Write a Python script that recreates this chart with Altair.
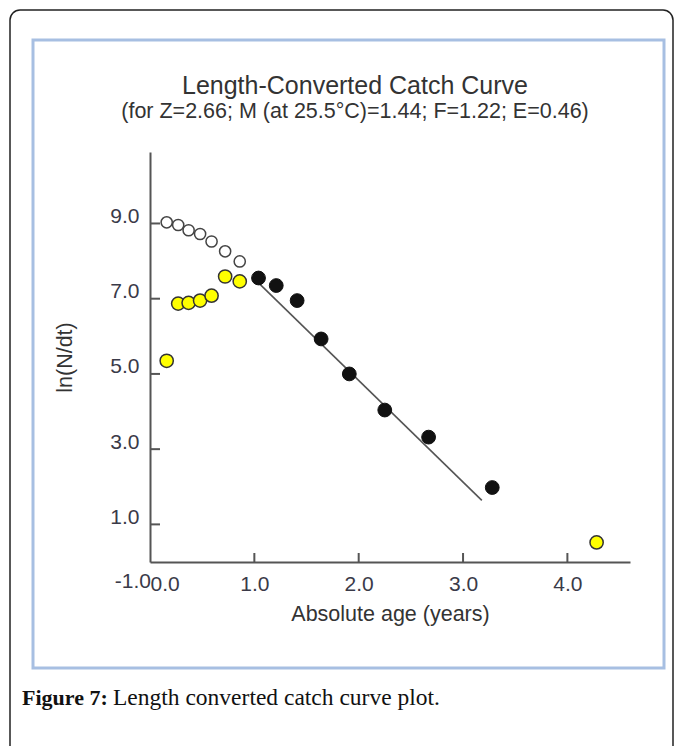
import altair as alt
import pandas as pd

# ---- data ----
ages_young = [0.16, 0.27, 0.37, 0.48, 0.59, 0.72, 0.86]
open_y = [9.03, 8.96, 8.82, 8.72, 8.52, 8.26, 7.99]
yellow_x = [0.16, 0.27, 0.37, 0.48, 0.59, 0.72, 0.86, 4.28]
yellow_y = [5.35, 6.87, 6.89, 6.95, 7.08, 7.59, 7.46, 0.52]
black_x = [1.04, 1.21, 1.41, 1.64, 1.91, 2.25, 2.67, 3.28]
black_y = [7.55, 7.35, 6.95, 5.93, 5.00, 4.04, 3.32, 1.98]
line_x = [1.04, 3.18]
line_y = [7.42, 1.64]
x_ticks = [0, 1, 2, 3, 4]
y_ticks = [1, 3, 5, 7, 9]
title_text = "Length-Converted Catch Curve"
subtitle_text = "(for Z=2.66; M (at 25.5°C)=1.44; F=1.22; E=0.46)"
x_title = "Absolute age (years)"
y_title = "ln(N/dt)"
extra_y_label = "-1.0"
caption_bold = "Figure 7:"
caption_rest = "Length converted catch curve plot."

FONT = "Liberation Sans"
AX = "#555555"
W, H = 480, 410

xs = alt.Scale(domain=[0, 4.6], nice=False, zero=False)
ys = alt.Scale(domain=[0, 10.9], nice=False, zero=False)

xaxis = alt.Axis(values=x_ticks, format=".1f", tickSize=0, grid=False, zindex=1,
                 domainColor=AX, domainWidth=2, labelFontSize=21, labelColor="#3a3a48",
                 labelFont=FONT, labelPadding=11, title=x_title, titleFont=FONT,
                 titleFontSize=21.5, titleFontWeight="normal", titleColor="#333333",
                 titlePadding=9)
yaxis = alt.Axis(values=y_ticks, format=".1f", tickSize=0, grid=False, zindex=1,
                 domainColor=AX, domainWidth=2, labelFontSize=21, labelColor="#3a3a48",
                 labelFont=FONT, labelPadding=11, labelOffset=-7, title=y_title,
                 titleFont=FONT, titleFontSize=21.5, titleFontWeight="normal",
                 titleColor="#333333", titlePadding=33)


def X(field):
    return alt.X(field, scale=xs, axis=xaxis)


def Y(field):
    return alt.Y(field, scale=ys, axis=yaxis)


# decorative frames
frame_df = pd.DataFrame({"k": [1]})
outer_frame = alt.Chart(frame_df).mark_rect(fill="white", stroke="#222222", strokeWidth=1.5,
                                            cornerRadius=10).encode(
    x=alt.value(-140), x2=alt.value(523), y=alt.value(-142), y2=alt.value(700))
inner_frame = alt.Chart(frame_df).mark_rect(fill="white", stroke="#a7bfe2", strokeWidth=3).encode(
    x=alt.value(-117), x2=alt.value(514), y=alt.value(-112), y2=alt.value(516))

pts_open = pd.DataFrame({"x": ages_young, "y": open_y})
pts_yel = pd.DataFrame({"x": yellow_x, "y": yellow_y})
pts_blk = pd.DataFrame({"x": black_x, "y": black_y})
line_df = pd.DataFrame({"x": line_x, "y": line_y})

line = alt.Chart(line_df).mark_line(color="#555555", strokeWidth=1.6).encode(
    x=X("x:Q"), y=Y("y:Q"))

ytick_df = pd.DataFrame({"v": y_ticks})
xtick_df = pd.DataFrame({"v": x_ticks[1:]})
yticks = alt.Chart(ytick_df).mark_rule(color=AX, strokeWidth=2).encode(
    y=Y("v:Q"), x=alt.value(0), x2=alt.value(10))
xticks = alt.Chart(xtick_df).mark_rule(color=AX, strokeWidth=2).encode(
    x=X("v:Q"), y=alt.value(H), y2=alt.value(H - 9))

open_pts = alt.Chart(pts_open).mark_point(shape="circle", filled=True, fill="white",
                                          stroke="#444444", strokeWidth=1.5, size=125,
                                          opacity=1).encode(x=X("x:Q"), y=Y("y:Q"))
yel_pts = alt.Chart(pts_yel).mark_point(shape="circle", filled=True, fill="#ffff00",
                                        stroke="#333333", strokeWidth=1.5, size=175,
                                        opacity=1).encode(x=X("x:Q"), y=Y("y:Q"))
blk_pts = alt.Chart(pts_blk).mark_point(shape="circle", filled=True, fill="#111111",
                                        stroke="#111111", strokeWidth=1, size=190,
                                        opacity=1).encode(x=X("x:Q"), y=Y("y:Q"))

neg_label = alt.Chart(pd.DataFrame({"t": [extra_y_label], "y": [0]})).mark_text(
    font=FONT, fontSize=21, color="#3a3a48", align="right", baseline="middle", dy=20).encode(
    text="t:N", x=alt.value(1), y=Y("y:Q"))

cap1 = alt.Chart(pd.DataFrame({"t": [caption_bold]})).mark_text(
    font="Liberation Serif", fontSize=22, fontWeight="bold", color="#111111",
    align="left", baseline="alphabetic").encode(text="t:N", x=alt.value(-128), y=alt.value(553))
cap2 = alt.Chart(pd.DataFrame({"t": [caption_rest]})).mark_text(
    font="Liberation Serif", fontSize=23.5, color="#111111",
    align="left", baseline="alphabetic").encode(text="t:N", x=alt.value(-37), y=alt.value(553))

chart = alt.layer(
    outer_frame, inner_frame, line, yticks, xticks, open_pts, yel_pts, blk_pts,
    neg_label, cap1, cap2
).properties(
    width=W, height=H,
    autosize=alt.AutoSizeParams(type="none"),
    padding={"left": 142, "top": 144, "right": 45, "bottom": 184},
    title=alt.TitleParams(text=title_text, subtitle=subtitle_text, anchor="middle",
                          frame="group",
                          font=FONT, fontSize=25, fontWeight="normal", color="#333333",
                          subtitleFont=FONT, subtitleFontSize=21.5, subtitleColor="#333333",
                          subtitlePadding=2, offset=30, dx=-35, dy=143),
    background="white",
).configure_view(stroke=None)

chart.save("out.html", embed_options={"renderer": "svg", "actions": False})
